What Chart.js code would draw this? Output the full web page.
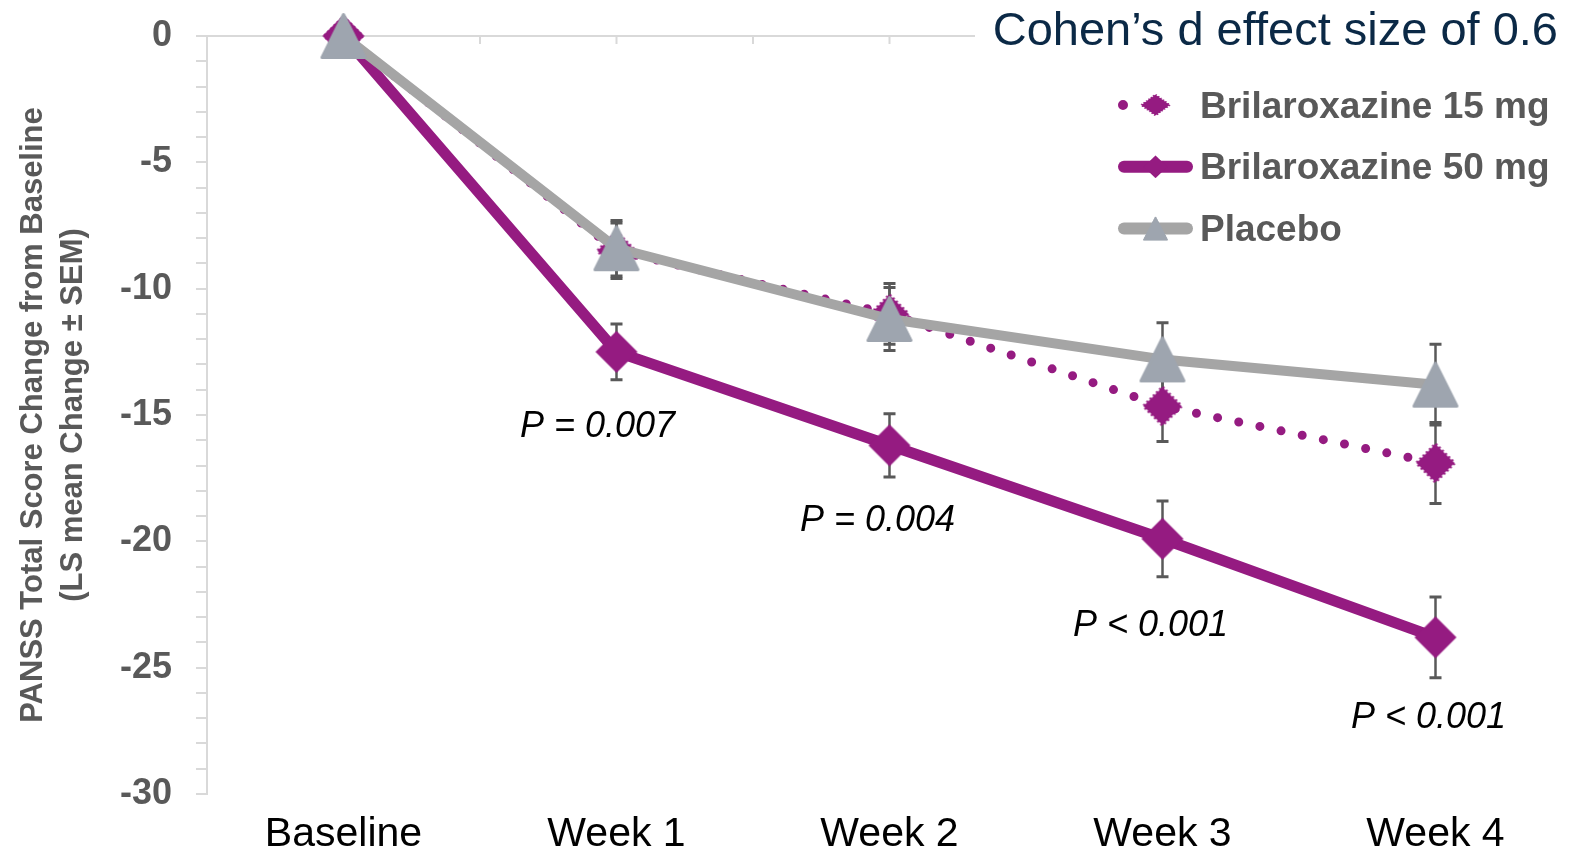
<!DOCTYPE html>
<html><head><meta charset="utf-8">
<script src="https://cdn.jsdelivr.net/npm/chart.js@4/dist/chart.umd.min.js"></script>
<style>html,body{margin:0;padding:0;background:#fff;overflow:hidden}#wrap{width:1590px;height:849px}</style>
</head><body><div id="wrap"><canvas id="c" width="1590" height="849"></canvas></div>
<script>
// ---------- data ----------
const categories = ['Baseline', 'Week 1', 'Week 2', 'Week 3', 'Week 4'];
const seriesNames = ['Brilaroxazine 15 mg', 'Brilaroxazine 50 mg', 'Placebo'];
const brilaroxazine15 = [0, -8.5, -11.0, -14.65, -16.9];
const brilaroxazine15Sem = [null, 1.1, 1.2, 1.4, 1.6];
const brilaroxazine50 = [0, -12.5, -16.2, -19.9, -23.8];
const brilaroxazine50Sem = [null, 1.1, 1.25, 1.5, 1.6];
const placebo = [0, -8.4, -11.2, -12.8, -13.8];
const placeboSem = [null, 1.1, 1.25, 1.45, 1.6];
const pValueLabels = ['', 'P = 0.007', 'P = 0.004', 'P < 0.001', 'P < 0.001'];
const yTickLabels = [0, -5, -10, -15, -20, -25, -30];
const legendTitle = 'Cohen\u2019s d effect size of 0.6';
const yTitle = ['PANSS Total Score Change from Baseline', '(LS mean Change \u00B1 SEM)'];

// ---------- styles ----------
const FONT = "'Liberation Sans', Arial, sans-serif";
const PURPLE = '#951B81';
const GREY_LINE = '#A5A5A5';
const TRI_FILL = '#9EA5AF';
const AXIS = '#D9D9D9';
const TEXT_GREY = '#595959';
// pixel nudges of each p-value annotation relative to its 50 mg point
const pLabelNudge = [[0, 0], [-19, 85], [-12, 86], [-12, 97], [-7, 91]];

function makeDiamond(w, h, color, fuzzy) {
  const m = 3;
  const c = document.createElement('canvas');
  c.width = w + 2 * m; c.height = h + 2 * m;
  const g = c.getContext('2d');
  g.fillStyle = color;
  g.beginPath();
  g.moveTo(m + w / 2, m); g.lineTo(m + w, m + h / 2); g.lineTo(m + w / 2, m + h); g.lineTo(m, m + h / 2);
  g.closePath(); g.fill();
  if (fuzzy) {
    g.strokeStyle = color; g.lineWidth = 3; g.setLineDash([2, 2.5]); g.stroke();
  }
  return c;
}
function makeTriangle(w, h, color) {
  const m = 2;
  const c = document.createElement('canvas');
  c.width = w + 2 * m; c.height = h + 2 * m;
  const g = c.getContext('2d');
  g.fillStyle = color; g.strokeStyle = color; g.lineWidth = 3; g.lineJoin = 'round';
  g.beginPath();
  g.moveTo(m + w / 2, m + 1.5); g.lineTo(m + w - 1.5, m + h - 1.5); g.lineTo(m + 1.5, m + h - 1.5);
  g.closePath(); g.fill(); g.stroke();
  return c;
}
const diamond15 = makeDiamond(38, 38, PURPLE, true);
const diamond50 = makeDiamond(42, 42, PURPLE, false);
const triangle = makeTriangle(46, 46, TRI_FILL);

const seriesValues = [brilaroxazine15, brilaroxazine50, placebo];
const seriesSem = [brilaroxazine15Sem, brilaroxazine50Sem, placeboSem];

// ---------- plugins ----------
const zeroAxisPlugin = {
  id: 'zeroAxis',
  beforeDatasetsDraw(chart) {
    const {ctx, chartArea, scales: {x, y}} = chart;
    const y0 = y.getPixelForValue(0);
    ctx.save();
    ctx.strokeStyle = AXIS; ctx.lineWidth = 2;
    ctx.beginPath(); ctx.moveTo(chartArea.left, y0); ctx.lineTo(chartArea.right, y0); ctx.stroke();
    const half = (x.getPixelForValue(1) - x.getPixelForValue(0)) / 2;
    ctx.beginPath();
    for (let i = 0; i < categories.length; i++) {
      const cx = x.getPixelForValue(i);
      [cx, cx + half].forEach(px => { ctx.moveTo(px, y0); ctx.lineTo(px, y0 + 8); });
    }
    ctx.stroke();
    ctx.restore();
  }
};

const errorBarPlugin = {
  id: 'errorBars',
  beforeDatasetsDraw(chart) {
    const {ctx, scales: {x, y}} = chart;
    ctx.save();
    ctx.strokeStyle = TEXT_GREY;
    seriesValues.forEach((vals, s) => {
      vals.forEach((v, i) => {
        const sem = seriesSem[s][i];
        if (sem == null) return;
        const px = x.getPixelForValue(i);
        const yt = y.getPixelForValue(v + sem);
        const yb = y.getPixelForValue(v - sem);
        ctx.lineWidth = 2.5;
        ctx.beginPath(); ctx.moveTo(px, yt); ctx.lineTo(px, yb); ctx.stroke();
        ctx.lineWidth = 3;
        ctx.beginPath();
        ctx.moveTo(px - 6, yt); ctx.lineTo(px + 6, yt);
        ctx.moveTo(px - 6, yb); ctx.lineTo(px + 6, yb);
        ctx.stroke();
      });
    });
    ctx.restore();
  }
};

const pLabelPlugin = {
  id: 'pLabels',
  afterDatasetsDraw(chart) {
    const {ctx, scales: {x, y}} = chart;
    ctx.save();
    ctx.font = `italic 36px ${FONT}`;
    ctx.fillStyle = '#000';
    ctx.textAlign = 'center'; ctx.textBaseline = 'alphabetic';
    pValueLabels.forEach((t, i) => {
      if (!t) return;
      const [dx, dy] = pLabelNudge[i];
      ctx.fillText(t, x.getPixelForValue(i) + dx, y.getPixelForValue(brilaroxazine50[i]) + dy);
    });
    ctx.restore();
  }
};

const legendPlugin = {
  id: 'customLegend',
  afterDatasetsDraw(chart) {
    const ctx = chart.ctx;
    const ds = chart.data.datasets;
    ctx.save();
    ctx.fillStyle = '#fff';
    ctx.fillRect(975, 0, 615, 52);
    ctx.font = `47px ${FONT}`;
    ctx.fillStyle = '#0B2946';
    ctx.textAlign = 'right'; ctx.textBaseline = 'alphabetic';
    ctx.fillText(legendTitle, 1558, 45);

    const x0 = 1118, x1 = 1193, cx = (x0 + x1) / 2;
    const markerSizes = [[33, 24], [27, 26], [27, 26]];
    ds.forEach((d, i) => {
      const cy = 105 + i * 61.8;
      ctx.save();
      ctx.strokeStyle = d.borderColor;
      ctx.lineCap = 'round';
      if (d.borderDash && d.borderDash.length) {
        ctx.lineWidth = 10;
        ctx.setLineDash([0, 33]);
        ctx.beginPath(); ctx.moveTo(x0 + 5, cy); ctx.lineTo(x1 - 5, cy); ctx.stroke();
      } else {
        ctx.lineWidth = 12;
        ctx.beginPath(); ctx.moveTo(x0 + 6, cy); ctx.lineTo(x1 - 6, cy); ctx.stroke();
      }
      ctx.restore();
      const [w, h] = markerSizes[i];
      ctx.drawImage(d.pointStyle, cx - w / 2, cy - h / 2, w, h);
      ctx.font = `bold 37px ${FONT}`;
      ctx.fillStyle = TEXT_GREY;
      ctx.textAlign = 'left';
      ctx.fillText(d.label, 1200, cy + 12.5);
    });
    ctx.restore();
  }
};

// ---------- chart ----------
new Chart(document.getElementById('c'), {
  type: 'line',
  data: {
    labels: categories,
    datasets: [
      {
        label: seriesNames[0], data: brilaroxazine15, order: 1,
        borderColor: PURPLE, backgroundColor: PURPLE, borderWidth: 9,
        borderDash: [0, 21.6], borderCapStyle: 'round', borderJoinStyle: 'round',
        pointStyle: diamond15, pointRadius: 20, tension: 0, fill: false, clip: false
      },
      {
        label: seriesNames[1], data: brilaroxazine50, order: 2,
        borderColor: PURPLE, backgroundColor: PURPLE, borderWidth: 11,
        borderCapStyle: 'round', borderJoinStyle: 'round',
        pointStyle: diamond50, pointRadius: 21, tension: 0, fill: false, clip: false
      },
      {
        label: seriesNames[2], data: placebo, order: 0,
        borderColor: GREY_LINE, backgroundColor: TRI_FILL, borderWidth: 10,
        borderCapStyle: 'round', borderJoinStyle: 'round',
        pointStyle: triangle, pointRadius: 23, tension: 0, fill: false, clip: false
      }
    ]
  },
  options: {
    responsive: false,
    animation: false,
    events: [],
    devicePixelRatio: 1,
    layout: {autoPadding: false, padding: {top: 36, right: 18, left: 0, bottom: 0}},
    plugins: {legend: {display: false}, tooltip: {enabled: false}},
    scales: {
      x: {
        type: 'category', offset: true,
        grid: {display: false},
        border: {display: false},
        ticks: {color: '#000', font: {family: FONT, size: 41}, padding: 8, maxRotation: 0, autoSkip: false},
        afterFit(s) { s.height = 55; s.paddingLeft = 0; s.paddingRight = 0; }
      },
      y: {
        min: -30, max: 0,
        ticks: {
          stepSize: 1, autoSkip: false, padding: 24, color: TEXT_GREY,
          font: {family: FONT, size: 36, weight: 'bold', lineHeight: 0.6},
          callback: v => yTickLabels.includes(v) ? String(v) : ''
        },
        grid: {drawOnChartArea: false, drawTicks: true, tickLength: 11, tickColor: AXIS, color: AXIS, lineWidth: 2},
        border: {display: true, color: AXIS, width: 2},
        title: {
          display: true, text: yTitle, color: TEXT_GREY,
          font: {family: FONT, size: 31, weight: 'bold', lineHeight: 40 / 31},
          padding: {top: 13, bottom: 0}
        },
        afterFit(s) { s.width = 207; s.paddingTop = 0; s.paddingBottom = 0; }
      }
    }
  },
  plugins: [zeroAxisPlugin, errorBarPlugin, pLabelPlugin, legendPlugin]
});
</script>
</body></html>
